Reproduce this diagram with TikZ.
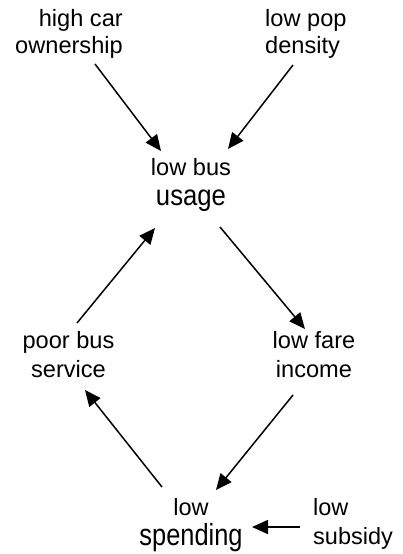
\documentclass[tikz,border=0pt]{standalone}
\usepackage{fontspec}
\setmainfont{Liberation Sans}
\usepackage{graphicx}
\usetikzlibrary{arrows.meta}
\newcommand{\lineword}[1]{\raisebox{0pt}[0pt][0pt]{#1}}
\newcommand{\tallword}[3]{\raisebox{0pt}[0pt][0pt]{\fontsize{#1}{#1}\selectfont\scalebox{1}[#2]{#3}}}
\tikzset{
  lbl/.style={inner sep=0pt, font=\fontsize{23.6}{27}\selectfont},
  arr/.style={-{Triangle[length=16pt,width=14pt]}, line width=1.5pt}
}
\begin{document}
\begin{tikzpicture}[x=1pt,y=-1pt]
\useasboundingbox (0,0) rectangle (402,554);
\node[lbl, anchor=base east] (hc) at (123,26)
  {\begin{tabular}[t]{@{}r@{}}\lineword{high car}\\\lineword{ownership}\end{tabular}};
\node[lbl, anchor=base west] (lpd) at (265,26)
  {\begin{tabular}[t]{@{}l@{}}\lineword{low pop}\\\lineword{density}\end{tabular}};
\node[lbl, font=\fontsize{23.6}{30}\selectfont, anchor=base] (lbu) at (191,175)
  {\begin{tabular}[t]{@{}c@{}}\lineword{low bus}\\\tallword{25.7}{1.13}{usage}\end{tabular}};
\node[lbl, font=\fontsize{23.6}{29}\selectfont, anchor=base] (pbs) at (68.5,348)
  {\begin{tabular}[t]{@{}c@{}}\lineword{poor bus}\\\lineword{service}\end{tabular}};
\node[lbl, font=\fontsize{23.6}{29}\selectfont, anchor=base] (lfi) at (314,348)
  {\begin{tabular}[t]{@{}c@{}}\lineword{low fare}\\\lineword{income}\end{tabular}};
\node[lbl, font=\fontsize{23.5}{30}\selectfont, anchor=base] (ls) at (191,515)
  {\begin{tabular}[t]{@{}c@{}}\lineword{low}\\\tallword{25.4}{1.2}{spending}\end{tabular}};
\node[lbl, font=\fontsize{23.5}{29}\selectfont, anchor=base west] (lsub) at (313,515)
  {\begin{tabular}[t]{@{}l@{}}\lineword{low}\\\lineword{subsidy}\end{tabular}};
\draw[arr] ([shift={(-28,38)}]hc.base east) -- ([shift={(-30,-24)}]lbu.base);
\draw[arr] ([shift={(28,39)}]lpd.base west) -- ([shift={(37,-26)}]lbu.base);
\draw[arr] ([shift={(8.5,-25)}]pbs.base) -- ([shift={(-36,53)}]lbu.base);
\draw[arr] ([shift={(29,52)}]lbu.base) -- ([shift={(-9,-19)}]lfi.base);
\draw[arr] ([shift={(-21,47)}]lfi.base) -- ([shift={(25,-25)}]ls.base);
\draw[arr] ([shift={(-29,-28)}]ls.base) -- ([shift={(16.5,42)}]pbs.base);
\draw[arr] ([shift={(-13,12)}]lsub.base west) -- ([shift={(61,12)}]ls.base);
\end{tikzpicture}
\end{document}
